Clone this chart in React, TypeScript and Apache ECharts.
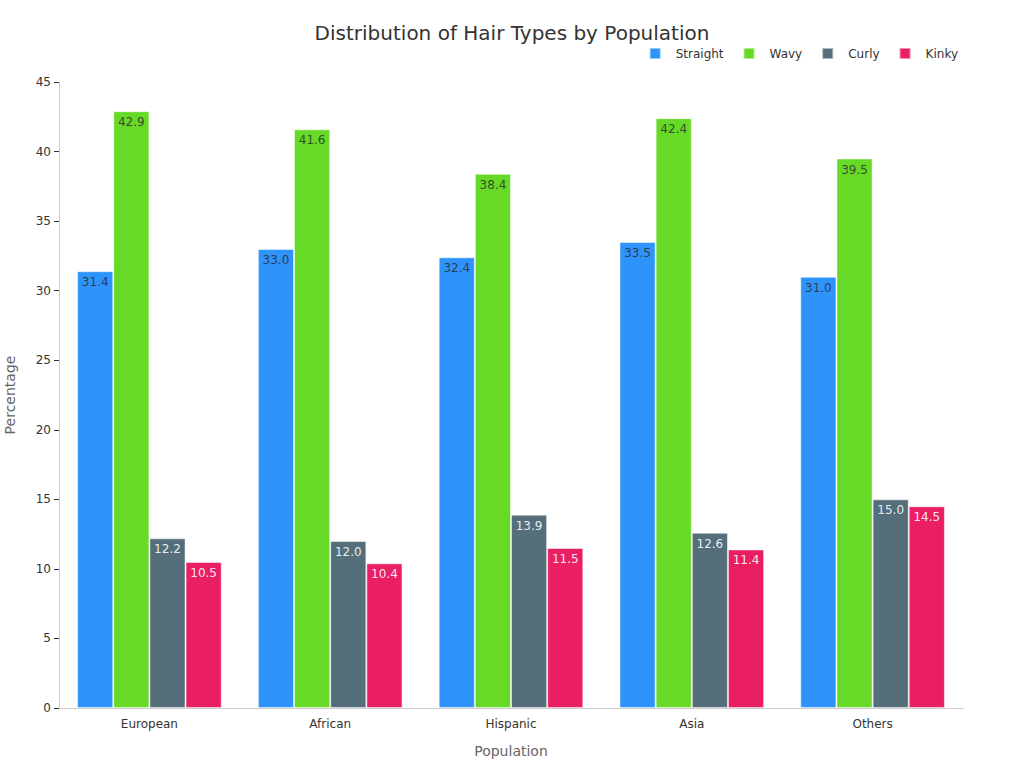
import React, { useEffect, useRef } from "react";
import * as echarts from "echarts";

const categories = ["European", "African", "Hispanic", "Asia", "Others"];
const straight = [31.4, 33.0, 32.4, 33.5, 31.0];
const wavy = [42.9, 41.6, 38.4, 42.4, 39.5];
const curly = [12.2, 12.0, 13.9, 12.6, 15.0];
const kinky = [10.5, 10.4, 11.5, 11.4, 14.5];
const seriesNames = ["Straight", "Wavy", "Curly", "Kinky"];
const colors = ["#2E93FA", "#66DA26", "#546E7A", "#E91E63"];
const labelColors = ["rgba(40,40,40,0.8)", "rgba(40,40,40,0.8)", "rgba(255,255,255,0.9)", "rgba(255,255,255,0.9)"];

export default function App() {
  const ref = useRef<HTMLDivElement>(null);
  useEffect(() => {
    if (!ref.current) return;
    const chart = echarts.init(ref.current, undefined, { renderer: "svg" });
    const data = [straight, wavy, curly, kinky];
    chart.setOption({
      animation: false,
      textStyle: { fontFamily: "DejaVu Sans" },
      title: {
        text: "Distribution of Hair Types by Population",
        left: "center",
        top: 18,
        textStyle: { fontSize: 20, fontWeight: "normal", color: "#333" },
      },
      legend: {
        top: 42,
        right: 61,
        itemWidth: 11,
        itemHeight: 11,
        itemGap: 19,
        icon: "rect",
        textStyle: { fontSize: 12, color: "#333", padding: [0, 0, 0, 10] },
        data: seriesNames,
      },
      grid: { left: 59, right: 61, top: 82, bottom: 60, containLabel: false, outerBoundsMode: "none" },
      xAxis: {
        type: "category",
        data: categories,
        name: "Population",
        nameLocation: "middle",
        nameGap: 36,
        nameTextStyle: { fontSize: 14, color: "#666" },
        axisLine: { lineStyle: { color: "#ccc" } },
        axisTick: { alignWithLabel: true, length: 5, lineStyle: { color: "#333" }, interval: 0 },
        axisLabel: { fontSize: 12, color: "#333", margin: 10 },
      },
      yAxis: {
        type: "value",
        min: 0,
        max: 45,
        interval: 5,
        name: "Percentage",
        nameLocation: "middle",
        nameGap: 42,
        nameTextStyle: { fontSize: 14, color: "#666" },
        axisLine: { show: true, lineStyle: { color: "#ccc" } },
        axisTick: { show: true, length: 5, lineStyle: { color: "#333" } },
        axisLabel: { fontSize: 12, color: "#333", margin: 8 },
        splitLine: { show: false },
      },
      series: seriesNames.map((name, i) => ({
        name,
        type: "bar",
        data: data[i],
        barGap: "0%",
        barCategoryGap: "20%",
        itemStyle: {
          color: colors[i],
          borderColor: "rgba(255,255,255,0.5)",
          borderWidth: 1,
        },
        label: {
          show: true,
          position: "insideTop",
          distance: 5,
          formatter: (p: any) => Number(p.value).toFixed(1),
          fontSize: 12,
          color: labelColors[i],
        },
      })),
    });
    return () => chart.dispose();
  }, []);
  return <div ref={ref} style={{ position: "absolute", left: 0, top: 0, width: 1024, height: 768 }} />;
}
